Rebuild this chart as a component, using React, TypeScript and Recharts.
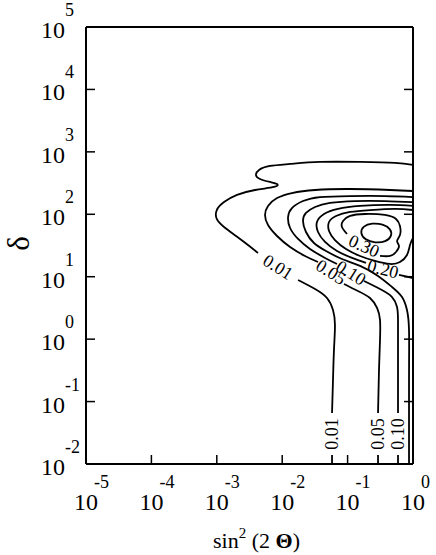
import React from "react";
import { ComposedChart, Line, Scatter, XAxis, YAxis, Label } from "recharts";

type Pt = [number, number]; // [sin^2(2θ), δ]

const xTicks = [1e-5, 1e-4, 1e-3, 1e-2, 1e-1, 1];
const yTicks = [1e-2, 1e-1, 1, 1e1, 1e2, 1e3, 1e4, 1e5];

// 0.01 contour, split where the labels sit
const c01a: Pt[] = [
  [1.0, 617], [0.531, 664], [0.155, 689], [0.0378, 689], [0.0132, 640], [6.52e-3, 594],
  [4.42e-3, 512], [3.97e-3, 426], [4.58e-3, 367], [6.52e-3, 329], [8.34e-3, 305], [7.5e-3, 274],
  [3.84e-3, 245], [2.04e-3, 204], [1.29e-3, 157], [1.0e-3, 117], [1.0e-3, 84.1], [1.29e-3, 62.5],
  [1.97e-3, 44.9], [3.0e-3, 32.2], [4.27e-3, 24.0],
];
const c01b: Pt[] = [
  [0.0175, 8.85], [0.0318, 6.35], [0.0484, 4.56], [0.0598, 2.93], [0.0641, 1.69],
  [0.0619, 0.67], [0.0598, 0.222], [0.0578, 0.0656],
];
const c01c: Pt[] = [[0.0578, 0.0139], [0.0578, 0.01]];

// 0.05 contour
const c05a: Pt[] = [
  [1.0, 236], [0.446, 245], [0.109, 254], [0.0318, 245], [0.0141, 219], [8.34e-3, 182],
  [6.07e-3, 136], [5.46e-3, 97.5], [6.07e-3, 67.3], [8.34e-3, 44.9], [0.0132, 29.9],
  [0.0223, 21.5], [0.0353, 17.2],
];
const c05b: Pt[] = [
  [0.0881, 7.64], [0.144, 5.9], [0.22, 4.56], [0.282, 3.16], [0.313, 2.03], [0.313, 0.968],
  [0.302, 0.321], [0.292, 0.0656],
];
const c05c: Pt[] = [[0.292, 0.0139], [0.292, 0.01]];

// 0.10 contour
const c10a: Pt[] = [
  [1.0, 189], [0.373, 196], [0.109, 196], [0.0378, 189], [0.0208, 163], [0.0141, 126],
  [0.0123, 90.6], [0.0132, 60.3], [0.0175, 40.2], [0.0266, 27.8], [0.0452, 20.0], [0.0689, 16.0],
];
const c10b: Pt[] = [
  [0.178, 8.53], [0.313, 6.35], [0.478, 4.73], [0.57, 3.27], [0.59, 2.03], [0.59, 0.67], [0.59, 0.0656],
];
const c10c: Pt[] = [[0.59, 0.0139], [0.59, 0.01]];

// 0.15 contour (unlabelled)
const c15: Pt[] = [
  [1.0, 157], [0.373, 163], [0.13, 163], [0.0538, 152], [0.0318, 131], [0.0231, 105],
  [0.0208, 78.2], [0.0231, 52.0], [0.0306, 34.7], [0.0468, 25.8], [0.082, 19.2], [0.155, 14.9],
  [0.292, 10.3], [0.478, 6.84], [0.679, 4.73], [0.809, 2.93], [0.869, 1.4], [0.869, 0.222], [0.869, 0.01],
];

// 0.20 contour
const c20a: Pt[] = [
  [1.0, 136], [0.446, 141], [0.155, 136], [0.0713, 122], [0.0436, 101], [0.034, 75.2],
  [0.0353, 52.0], [0.0452, 36.0], [0.0689, 25.8], [0.117, 20.0], [0.191, 16.6],
];
const c20b: Pt[] = [[0.611, 10.7], [1.0, 9.53]];

// 0.25 contour (unlabelled)
const c25: Pt[] = [
  [1.0, 117], [0.531, 122], [0.22, 117], [0.109, 109], [0.0665, 94.0], [0.052, 75.2],
  [0.052, 54.0], [0.0641, 38.7], [0.0946, 27.8], [0.155, 21.5], [0.262, 17.9], [0.446, 16.0],
  [0.632, 17.2], [0.809, 22.3], [0.9, 32.2], [1.0, 41.7],
];

// 0.30 contour
const c30: Pt[] = [
  [0.313, 21.5], [0.446, 21.5], [0.55, 24.9], [0.611, 31.0], [0.57, 37.3], [0.632, 46.6],
  [0.632, 64.9], [0.55, 84.1], [0.373, 97.5], [0.185, 101], [0.109, 94.0], [0.0851, 78.2],
  [0.082, 62.5], [0.0979, 48.3],
];

// innermost closed contour
const c35: Pt[] = [
  [0.155, 50.1], [0.172, 64.9], [0.236, 72.4], [0.348, 69.8], [0.461, 58.1], [0.478, 44.9],
  [0.386, 36.0], [0.262, 34.7], [0.185, 38.7],
];

const openSegments = [c01a, c01b, c01c, c05a, c05b, c05c, c10a, c10b, c10c, c15, c20a, c20b, c25, c30];

// contour labels: position, text
const labelPos: Pt[] = [
  [8.63e-3, 14.3], [0.0557, 11.9], [0.113, 11.5], [0.348, 13.3], [0.178, 31.0],
  [0.0578, 0.0303], [0.292, 0.0303], [0.59, 0.0303],
];
const labelText = ["0.01", "0.05", "0.10", "0.20", "0.30", "0.01", "0.05", "0.10"];
const labelAngle = [32, 32, 32, 14, 24, -90, -90, -90];

const FONT = "'Liberation Serif', 'Times New Roman', serif";

const toRows = (pts: Pt[]) => pts.map(([x, y]) => ({ x, y }));
const expOf = (v: number) => String(Math.round(Math.log10(v)));

function BottomTick({ x, y, payload }: any) {
  return (
    <g>
      <line x1={x} y1={y} x2={x} y2={y - 9} stroke="#000" strokeWidth={1.5} />
      <text x={x} y={y + 46} textAnchor="middle" fontSize={24} fontFamily={FONT} fill="#000">10</text>
      <text x={x + 8} y={y + 24} fontSize={18} fontFamily={FONT} fill="#000">{expOf(payload.value)}</text>
    </g>
  );
}

function LeftTick({ x, y, payload }: any) {
  return (
    <g>
      <line x1={x} y1={y} x2={x + 9} y2={y} stroke="#000" strokeWidth={1.5} />
      <text x={x - 21} y={y + 11} textAnchor="end" fontSize={24} fontFamily={FONT} fill="#000">10</text>
      <text x={x - 21} y={y - 11} fontSize={18} fontFamily={FONT} fill="#000">{expOf(payload.value)}</text>
    </g>
  );
}

function TopTick({ x, y }: any) {
  return <line x1={x} y1={y} x2={x} y2={y + 9} stroke="#000" strokeWidth={1.5} />;
}

function RightTick({ x, y }: any) {
  return <line x1={x} y1={y} x2={x - 9} y2={y} stroke="#000" strokeWidth={1.5} />;
}

function ContourLabel({ cx, cy, payload }: any) {
  return (
    <text
      x={cx}
      y={cy}
      transform={`rotate(${payload.angle} ${cx} ${cy})`}
      textAnchor="middle"
      dominantBaseline="central"
      fontSize={18}
      fontFamily={FONT}
      fill="#000"
    >
      {payload.text}
    </text>
  );
}

export default function App() {
  const labels = labelPos.map(([x, y], i) => ({ x, y, text: labelText[i], angle: labelAngle[i] }));
  const axisLine = { stroke: "#000", strokeWidth: 2 };
  const lineProps = { stroke: "#000", strokeWidth: 1.8, dot: false, isAnimationActive: false, activeDot: false } as any;

  return (
    <div style={{ position: "absolute", left: 0, top: 0, width: 436, height: 555, background: "#fff" }}>
      <ComposedChart width={436} height={555} margin={{ top: 26, right: 22, bottom: 0, left: 0 }}>
        <XAxis
          dataKey="x" type="number" scale="log" domain={[1e-5, 1]} allowDataOverflow
          ticks={xTicks} interval={0} tickSize={0} tickMargin={0} tickLine={false}
          axisLine={axisLine} tick={<BottomTick />} height={91}
        >
          <Label
            content={({ viewBox }: any) => (
              <text
                x={viewBox.x + viewBox.width / 2 + 7}
                y={548}
                textAnchor="middle"
                fontSize={22}
                fontFamily={FONT}
                fill="#000"
                style={{ whiteSpace: "pre" }}
              >
                sin<tspan dy={-10} fontSize={15}>2</tspan>
                <tspan dy={10}> (2 </tspan>
                <tspan fontWeight="bold">Θ</tspan>)
              </text>
            )}
          />
        </XAxis>
        <XAxis
          xAxisId="top" orientation="top" type="number" scale="log" domain={[1e-5, 1]} allowDataOverflow
          ticks={xTicks} interval={0} tickSize={0} tickMargin={0} tickLine={false}
          axisLine={axisLine} tick={<TopTick />} height={1}
        />
        <YAxis
          dataKey="y" type="number" scale="log" domain={[1e-2, 1e5]} allowDataOverflow
          ticks={yTicks} interval={0} tickSize={0} tickMargin={0} tickLine={false}
          axisLine={axisLine} tick={<LeftTick />} width={86}
        >
          <Label
            content={({ viewBox }: any) => {
              const cx = 29;
              const cy = viewBox.y + viewBox.height / 2 - 2;
              return (
                <text x={cx} y={cy} transform={`rotate(-90 ${cx} ${cy})`} textAnchor="middle"
                  fontSize={31} fontFamily={FONT} fill="#000">δ</text>
              );
            }}
          />
        </YAxis>
        <YAxis
          yAxisId="right" orientation="right" type="number" scale="log" domain={[1e-2, 1e5]} allowDataOverflow
          ticks={yTicks} interval={0} tickSize={0} tickMargin={0} tickLine={false}
          axisLine={axisLine} tick={<RightTick />} width={1}
        />

        {openSegments.map((seg, i) => (
          <Line key={i} data={toRows(seg)} dataKey="y" type="natural" {...lineProps} />
        ))}
        <Line data={toRows(c35)} dataKey="y" type="basisClosed" {...lineProps} />

        <Scatter data={labels} dataKey="y" shape={<ContourLabel />} isAnimationActive={false} />
      </ComposedChart>
    </div>
  );
}
